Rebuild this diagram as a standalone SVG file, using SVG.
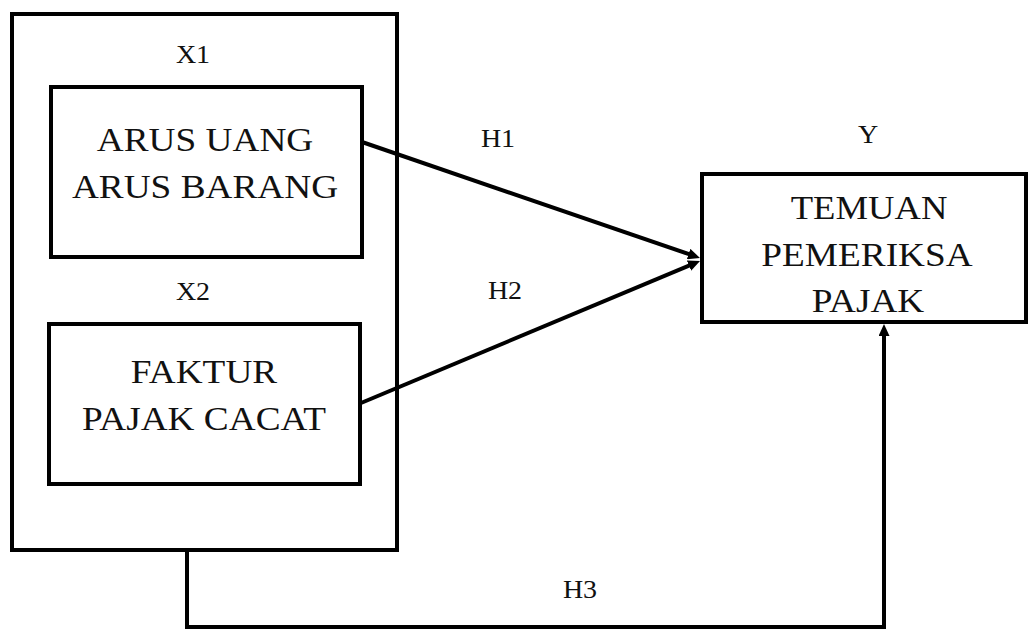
<svg xmlns="http://www.w3.org/2000/svg" width="1028" height="630" viewBox="0 0 1028 630">
<style>
.box{fill:none;stroke:#000;stroke-width:4}
.big{font-family:"Liberation Serif","Times New Roman",serif;font-size:33px;fill:#111;text-anchor:middle}
.lbl{font-family:"Liberation Serif","Times New Roman",serif;font-size:25px;fill:#111;text-anchor:middle}
.con{fill:none;stroke:#000;stroke-width:4}
</style>
<defs>
<marker id="ah" markerUnits="userSpaceOnUse" markerWidth="12" markerHeight="11" refX="2" refY="5.5" orient="auto">
<path d="M0,0 L12,5.5 L0,11 z" fill="#000"/>
</marker>
</defs>
<rect width="1028" height="630" fill="#fff"/>
<g id="outer">
<rect class="box" x="12" y="14" width="385" height="536"/>
</g>
<g id="x1">
<text class="lbl" transform="translate(193,63) scale(1.12,1)">X1</text>
<rect class="box" x="51" y="87" width="311" height="170"/>
<text class="big" transform="translate(205,151) scale(1.13,1)">ARUS UANG</text>
<text class="big" transform="translate(205,198) scale(1.13,1)">ARUS BARANG</text>
</g>
<g id="x2">
<text class="lbl" transform="translate(193,300) scale(1.12,1)">X2</text>
<rect class="box" x="49" y="324" width="311" height="160"/>
<text class="big" transform="translate(204,383) scale(1.13,1)">FAKTUR</text>
<text class="big" transform="translate(204,430) scale(1.13,1)">PAJAK CACAT</text>
</g>
<g id="y">
<text class="lbl" transform="translate(868,143) scale(1.12,1)">Y</text>
<rect class="box" x="702" y="174" width="324" height="148"/>
<text class="big" transform="translate(869,219) scale(1.11,1)">TEMUAN</text>
<text class="big" transform="translate(867,266) scale(1.13,1)">PEMERIKSA</text>
<text class="big" transform="translate(868,312) scale(1.13,1)">PAJAK</text>
</g>
<g id="connectors">
<line class="con" x1="362" y1="142" x2="690.5" y2="254.7" marker-end="url(#ah)"/>
<line class="con" x1="361" y1="403" x2="690.8" y2="264.9" marker-end="url(#ah)"/>
<polyline class="con" points="187,550 187,627 884,627 884,334" marker-end="url(#ah)"/>
<text class="lbl" transform="translate(498,147) scale(1.12,1)">H1</text>
<text class="lbl" transform="translate(505,299) scale(1.12,1)">H2</text>
<text class="lbl" transform="translate(580,598) scale(1.12,1)">H3</text>
</g>
</svg>
